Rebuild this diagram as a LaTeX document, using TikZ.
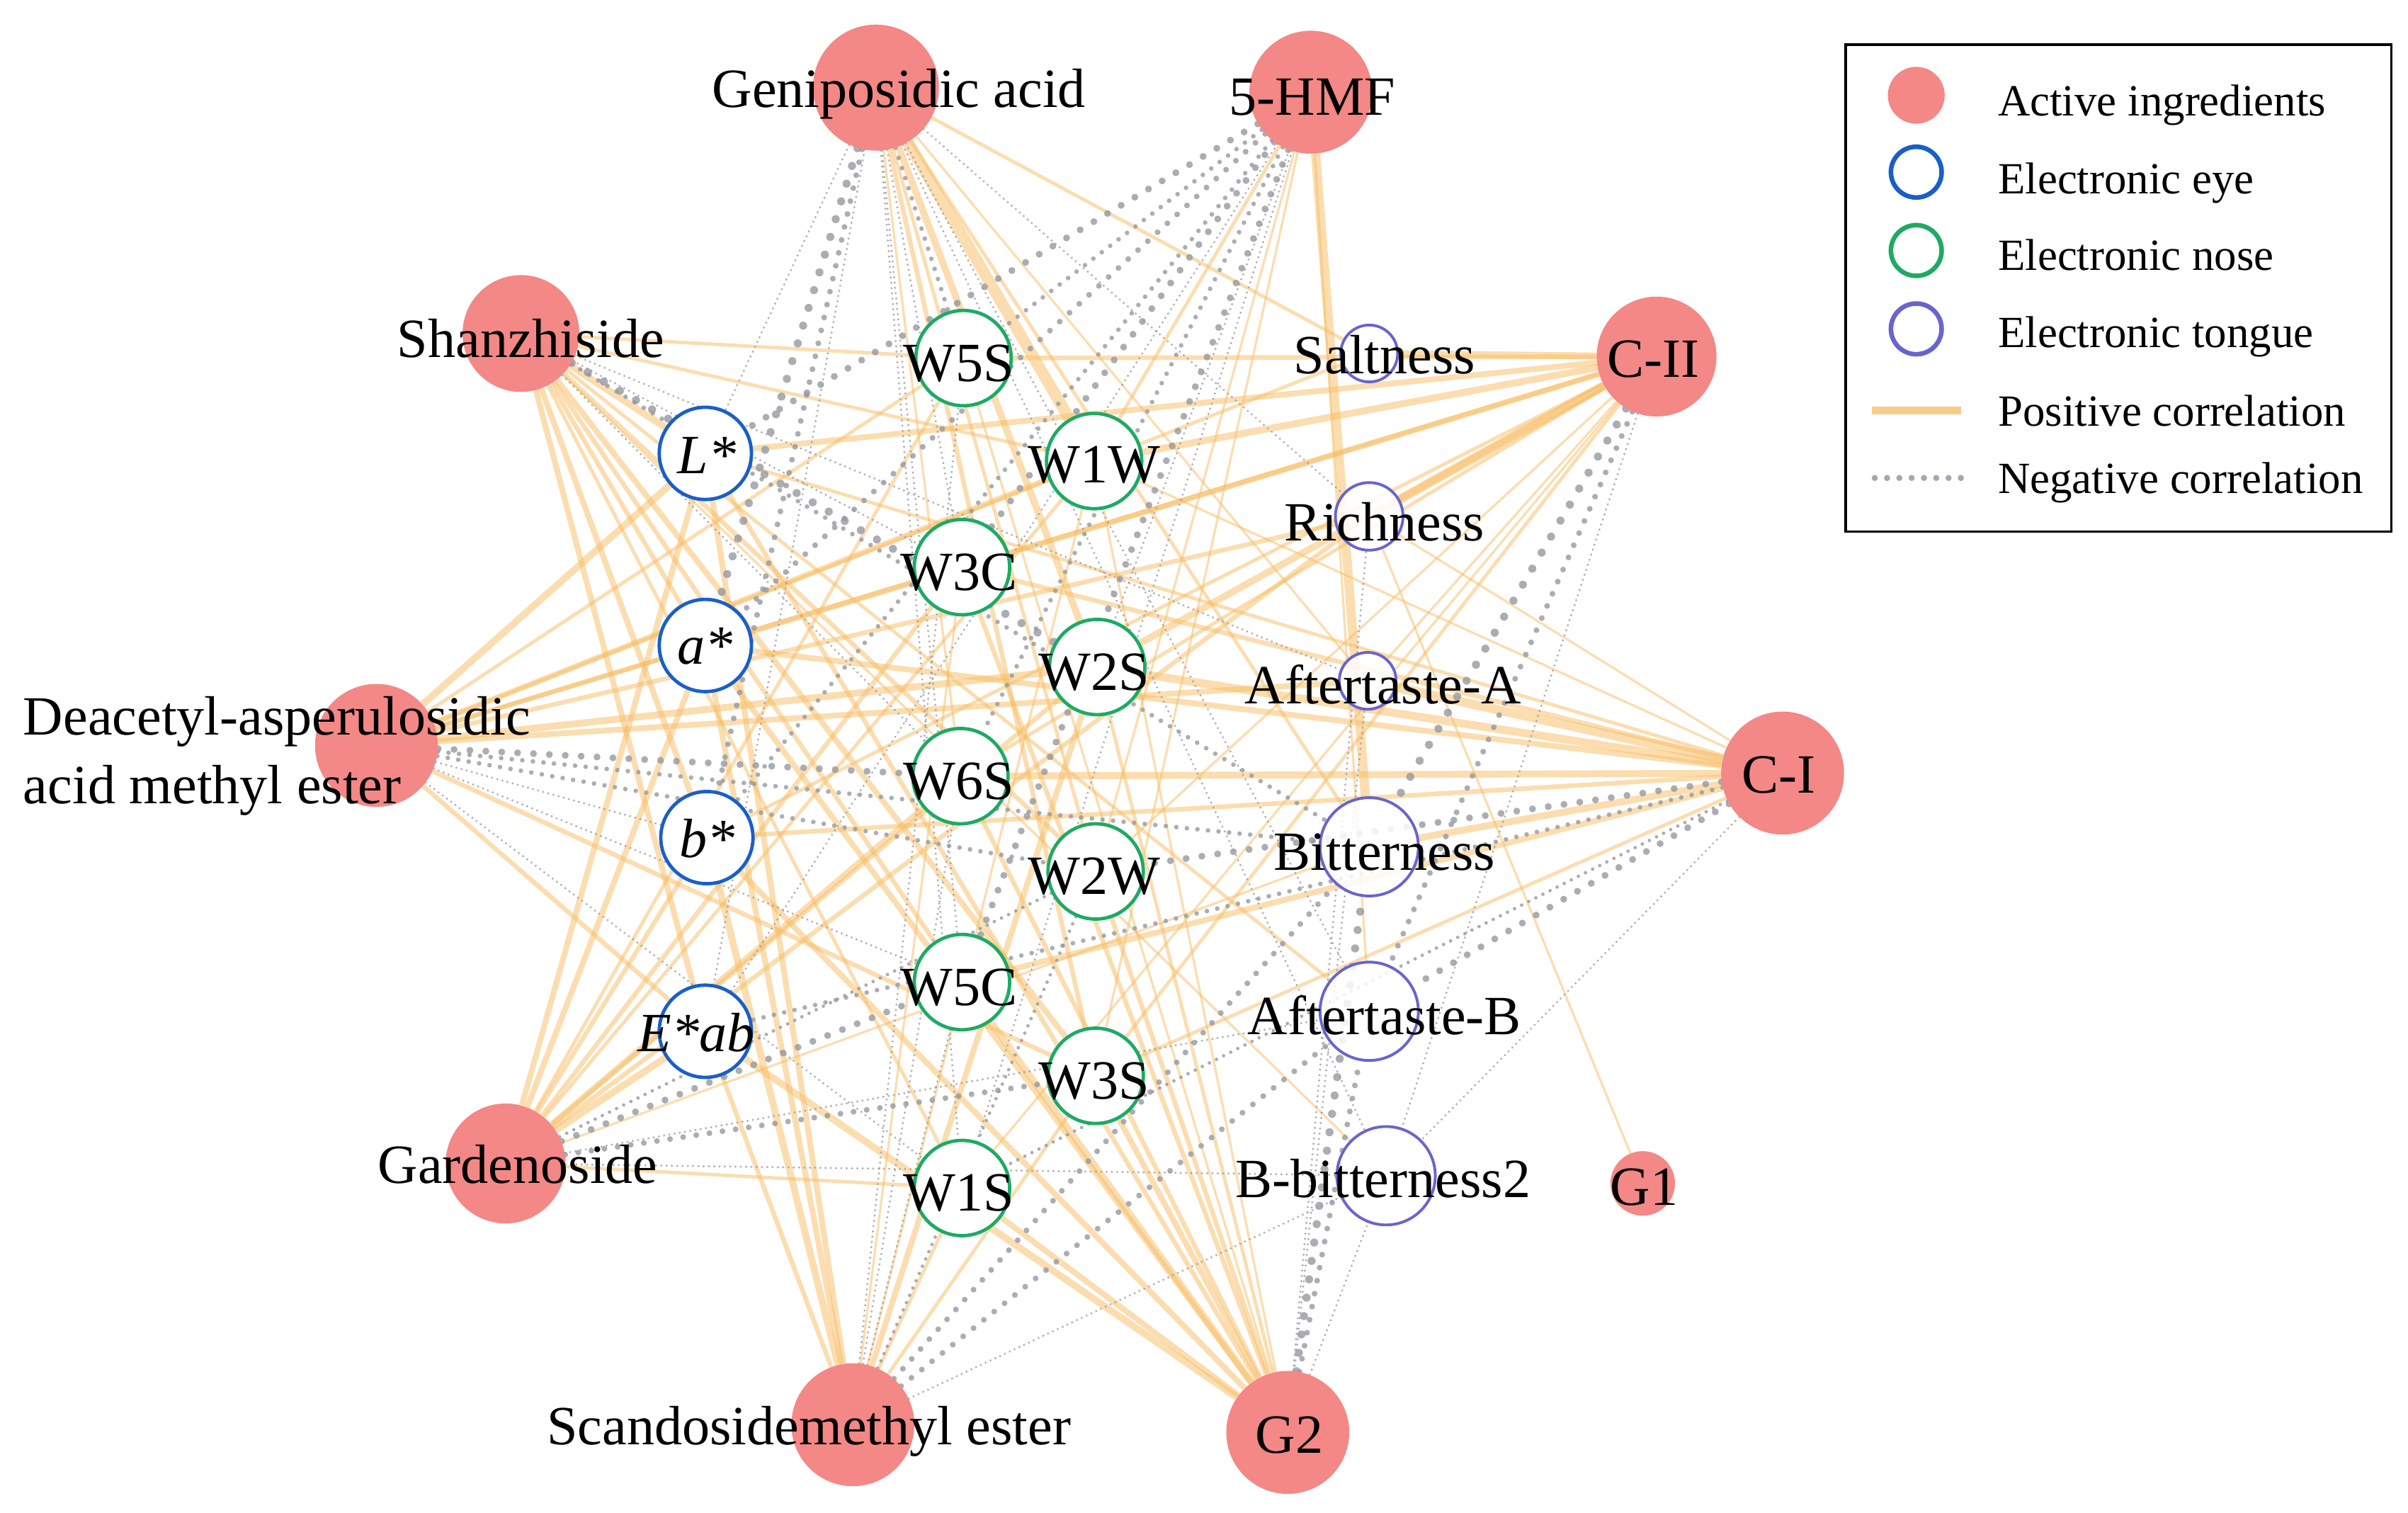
\documentclass[tikz,border=0pt]{standalone}
\usepackage{fontspec}
\setmainfont{Liberation Serif}
\usetikzlibrary{backgrounds}
\definecolor{ingrc}{RGB}{243,136,134}
\definecolor{eyec}{RGB}{25,95,200}
\definecolor{nosec}{RGB}{30,170,100}
\definecolor{tongc}{RGB}{105,100,205}
\definecolor{posc}{RGB}{247,188,98}
\definecolor{negc}{RGB}{150,152,160}
\begin{document}
\begin{tikzpicture}[x=1pt,y=-1pt,
  ingr/.style={circle,fill=ingrc,draw=none,minimum size=#1,inner sep=0pt},
  eyen/.style={circle,draw=eyec,line width=2.2pt,fill=white,minimum size=60pt,inner sep=0pt},
  nosen/.style={circle,draw=nosec,line width=2.2pt,fill=white,minimum size=62pt,inner sep=0pt},
  tongn/.style={circle,draw=tongc,line width=1.8pt,fill=white,fill opacity=0.85,minimum size=#1,inner sep=0pt},
  lab/.style={anchor=base,inner sep=0pt,font=\fontsize{36}{43}\selectfont},
  labw/.style={anchor=base west,inner sep=0pt,font=\fontsize{36}{43}\selectfont},
  legt/.style={anchor=base west,inner sep=0pt,font=\fontsize{29}{35}\selectfont},
  posline/.style={draw=posc,opacity=0.5,line width=#1},
  negline/.style={draw=negc,opacity=0.8,line cap=round,line width=#1}
]
\useasboundingbox (0,0) rectangle (1567,984);

% active ingredients
\node[ingr=82pt] (GA) at (570,57) {};
\node[ingr=80pt] (HMF) at (853,60) {};
\node[ingr=76pt] (SH) at (339,217) {};
\node[ingr=78pt] (CII) at (1078,232) {};
\node[ingr=80pt] (DA) at (245,485) {};
\node[ingr=80pt] (CI) at (1160,503) {};
\node[ingr=78pt] (GD) at (329,757) {};
\node[ingr=80pt] (SC) at (555,927) {};
\node[ingr=80pt] (G2) at (838,932) {};
\node[ingr=42pt] (G1) at (1069,770) {};

% electronic eye
\node[eyen] (Lst) at (459,295) {};
\node[eyen] (ast) at (459,420) {};
\node[eyen] (bst) at (460,545) {};
\node[eyen] (Eab) at (459,671) {};

% electronic nose
\node[nosen] (W5S) at (627,233) {};
\node[nosen] (W1W) at (712,300) {};
\node[nosen] (W3C) at (626,369) {};
\node[nosen] (W2S) at (714,434) {};
\node[nosen] (W6S) at (625,505) {};
\node[nosen] (W2W) at (713,567) {};
\node[nosen] (W5C) at (626,639) {};
\node[nosen] (W3S) at (713,700) {};
\node[nosen] (W1S) at (626,773) {};

% electronic tongue
\node[tongn=37pt] (Salt) at (891,230) {};
\node[tongn=44pt] (Rich) at (891,336) {};
\node[tongn=37pt] (AftA) at (890,443) {};
\node[tongn=64pt] (Bitt) at (891,551) {};
\node[tongn=64pt] (AftB) at (891,658) {};
\node[tongn=64pt] (Bb2) at (902,765) {};

% edges
\begin{scope}[on background layer]
\foreach \a/\b/\w in {
 GA/W1W/5, GA/W2S/3, GA/W3S/2, GA/Salt/1.5, GA/AftA/1, GA/Bitt/1.5, GA/W2W/1.5, GA/W6S/1,
 HMF/Bitt/4, HMF/W1W/1.5, HMF/W2W/1, HMF/W3S/1, HMF/AftB/1,
 SH/Lst/3, SH/W5S/1.5, SH/W1W/1.5, SH/ast/2, SH/bst/2.5, SH/Eab/2.5, SH/W2W/2, SH/W5C/2, SH/W3S/2.5, SH/W1S/1.5, SH/AftB/1.5, SH/Bb2/1,
 DA/Lst/3, DA/W5S/1.5, DA/W1W/2.5, DA/W3C/2, DA/ast/2, DA/W2S/3, DA/Eab/2, DA/W3S/2, DA/AftA/2.5, DA/Rich/2, DA/Salt/1.5,
 CII/Salt/3, CII/W5S/2, CII/Lst/2.5, CII/W1W/3, CII/W3C/2, CII/Rich/4, CII/W2S/3, CII/ast/2.5, CII/W6S/1.5, CII/AftA/1, CII/W3S/1.5, CII/W1S/1, CII/W2W/1, CII/bst/1.5,
 CI/AftA/4, CI/W2S/3.5, CI/W6S/3, CI/ast/2.5, CI/bst/2, CI/Bitt/3, CI/W5C/2.5, CI/W3S/1.5, CI/Rich/1, CI/W1W/1, CI/Lst/1.5, CI/W3C/2,
 GD/Lst/2.5, GD/ast/2.5, GD/bst/2, GD/Eab/3, GD/W5S/1.5, GD/W3C/2, GD/W6S/2.5, GD/W2S/2, GD/W1W/1.5, GD/Rich/2, GD/W1S/1.5, GD/Bitt/1,
 SC/Lst/2.5, SC/ast/2.5, SC/bst/3, SC/Eab/2, SC/W1S/1.5, SC/W3C/1, SC/W2S/2.5, SC/W1W/1, SC/W3S/1.5,
 G2/W1S/2.5, G2/Eab/3, G2/bst/2.5, G2/ast/2.5, G2/Lst/2, G2/W5C/3, G2/W6S/2, G2/W3S/2.5, G2/W2W/2, G2/W3C/2, G2/W2S/1.5, G2/W1W/1, G2/W5S/1,
 G1/Rich/1}
 {
 \pgfmathsetmacro\lw{1.5*\w}
 \draw[posline=\lw pt] (\a) -- (\b);
 }
\foreach \a/\b/\w in {
 GA/ast/3.5, GA/bst/2.5, GA/W5S/2, GA/W3C/1, GA/W5C/1, GA/W1S/1, GA/Lst/1, GA/Eab/1, GA/AftB/1, GA/Bb2/1, GA/Rich/1,
 HMF/Lst/3, HMF/ast/2.5, HMF/W5S/2, HMF/W3C/3, HMF/W6S/2, HMF/W5C/3, HMF/bst/2, HMF/Eab/1, HMF/W1S/1, HMF/W2S/1,
 SH/W2S/3.5, SH/W3C/1, SH/W6S/1, SH/Bitt/2, SH/AftA/1,
 DA/W6S/3, DA/W2W/2, DA/bst/1, DA/W5C/1, DA/W1S/1, DA/Bitt/2,
 CII/Bitt/3.5, CII/AftB/2.5, CII/Bb2/1,
 CI/W2W/3, CI/Eab/2, CI/AftB/3, CI/Bb2/1, CI/W1S/1.5,
 GD/W5C/3, GD/W3S/2.5, GD/W2W/1.5, GD/Bb2/1, GD/AftB/1,
 SC/W5C/1, SC/W6S/1, SC/W2W/1.5, SC/Bitt/2.5, SC/AftB/2.5, SC/Bb2/1, SC/W5S/1,
 G2/Bitt/3.5, G2/AftB/2.5, G2/Bb2/1, G2/AftA/1, G2/Rich/1}
 {
 \pgfmathsetmacro\lw{1.5*\w}
 \pgfmathsetmacro\gap{2.3*\lw}
 \draw[negline=\lw pt, dash pattern=on 0pt off \gap pt] (\a) -- (\b);
 }
\end{scope}

% labels
\node[lab] (tGA) at (585,70) {Geniposidic acid};
\node[lab] (tHMF) at (854,75) {5-HMF};
\node[lab] (tSH) at (345.5,232.5) {Shanzhiside};
\node[lab] (tCII) at (1076,245.5) {C-II};
\node[labw] (tDA1) at (15,478) {Deacetyl-asperulosidic};
\node[labw] (tDA2) at (15,523) {acid methyl ester};
\node[lab] (tCI) at (1157.5,516) {C-I};
\node[lab] (tGD) at (337,770) {Gardenoside};
\node[lab] (tSC) at (526.5,940) {Scandosidemethyl ester};
\node[lab] (tG2) at (839,945.5) {G2};
\node[lab] (tG1) at (1070,784) {G1};
\node[lab] (tSalt) at (901,243) {Saltness};
\node[lab] (tRich) at (901,352) {Richness};
\node[lab] (tAftA) at (900,458) {Aftertaste-A};
\node[lab] (tBitt) at (901,566) {Bitterness};
\node[lab] (tAftB) at (901,673) {Aftertaste-B};
\node[lab] (tBb2) at (900,779) {B-bitterness2};
\node[lab] (tLst) at (460,308) {\textit{L*}};
\node[lab] (tast) at (459,432) {\textit{a*}};
\node[lab] (tbst) at (460,558) {\textit{b*}};
\node[lab] (tEab) at (453,684) {\textit{E*ab}};
\node[lab] (tW5S) at (624,248) {W5S};
\node[lab] (tW1W) at (712,314) {W1W};
\node[lab] (tW3C) at (624,384) {W3C};
\node[lab] (tW2S) at (712,449) {W2S};
\node[lab] (tW6S) at (624,520) {W6S};
\node[lab] (tW2W) at (712,582) {W2W};
\node[lab] (tW5C) at (624,654) {W5C};
\node[lab] (tW3S) at (712,715) {W3S};
\node[lab] (tW1S) at (624,788) {W1S};

% legend
\draw[line width=1.5pt] (1201,29) rectangle (1556,346);
\node[ingr=37pt] (k1) at (1247,62) {};
\node[circle,draw=eyec,line width=3pt,minimum size=33pt,inner sep=0pt] (k2) at (1247,112) {};
\node[circle,draw=nosec,line width=3pt,minimum size=33pt,inner sep=0pt] (k3) at (1247,163) {};
\node[circle,draw=tongc,line width=3pt,minimum size=33pt,inner sep=0pt] (k4) at (1247,214) {};
\coordinate (k5a) at (1218,267); \coordinate (k5b) at (1276,267);
\draw[draw=posc,opacity=0.75,line width=5pt] (k5a) -- (k5b);
\coordinate (k6a) at (1220,311); \coordinate (k6b) at (1276,311);
\draw[draw=negc,opacity=0.85,line width=4pt,line cap=round,dash pattern=on 0pt off 8pt] (k6a) -- (k6b);
\node[legt] (l1) at (1300,75.5) {Active ingredients};
\node[legt] (l2) at (1300,126) {Electronic eye};
\node[legt] (l3) at (1300,176) {Electronic nose};
\node[legt] (l4) at (1300,226) {Electronic tongue};
\node[legt] (l5) at (1300,277) {Positive correlation};
\node[legt] (l6) at (1300,321) {Negative correlation};
\end{tikzpicture}
\end{document}
